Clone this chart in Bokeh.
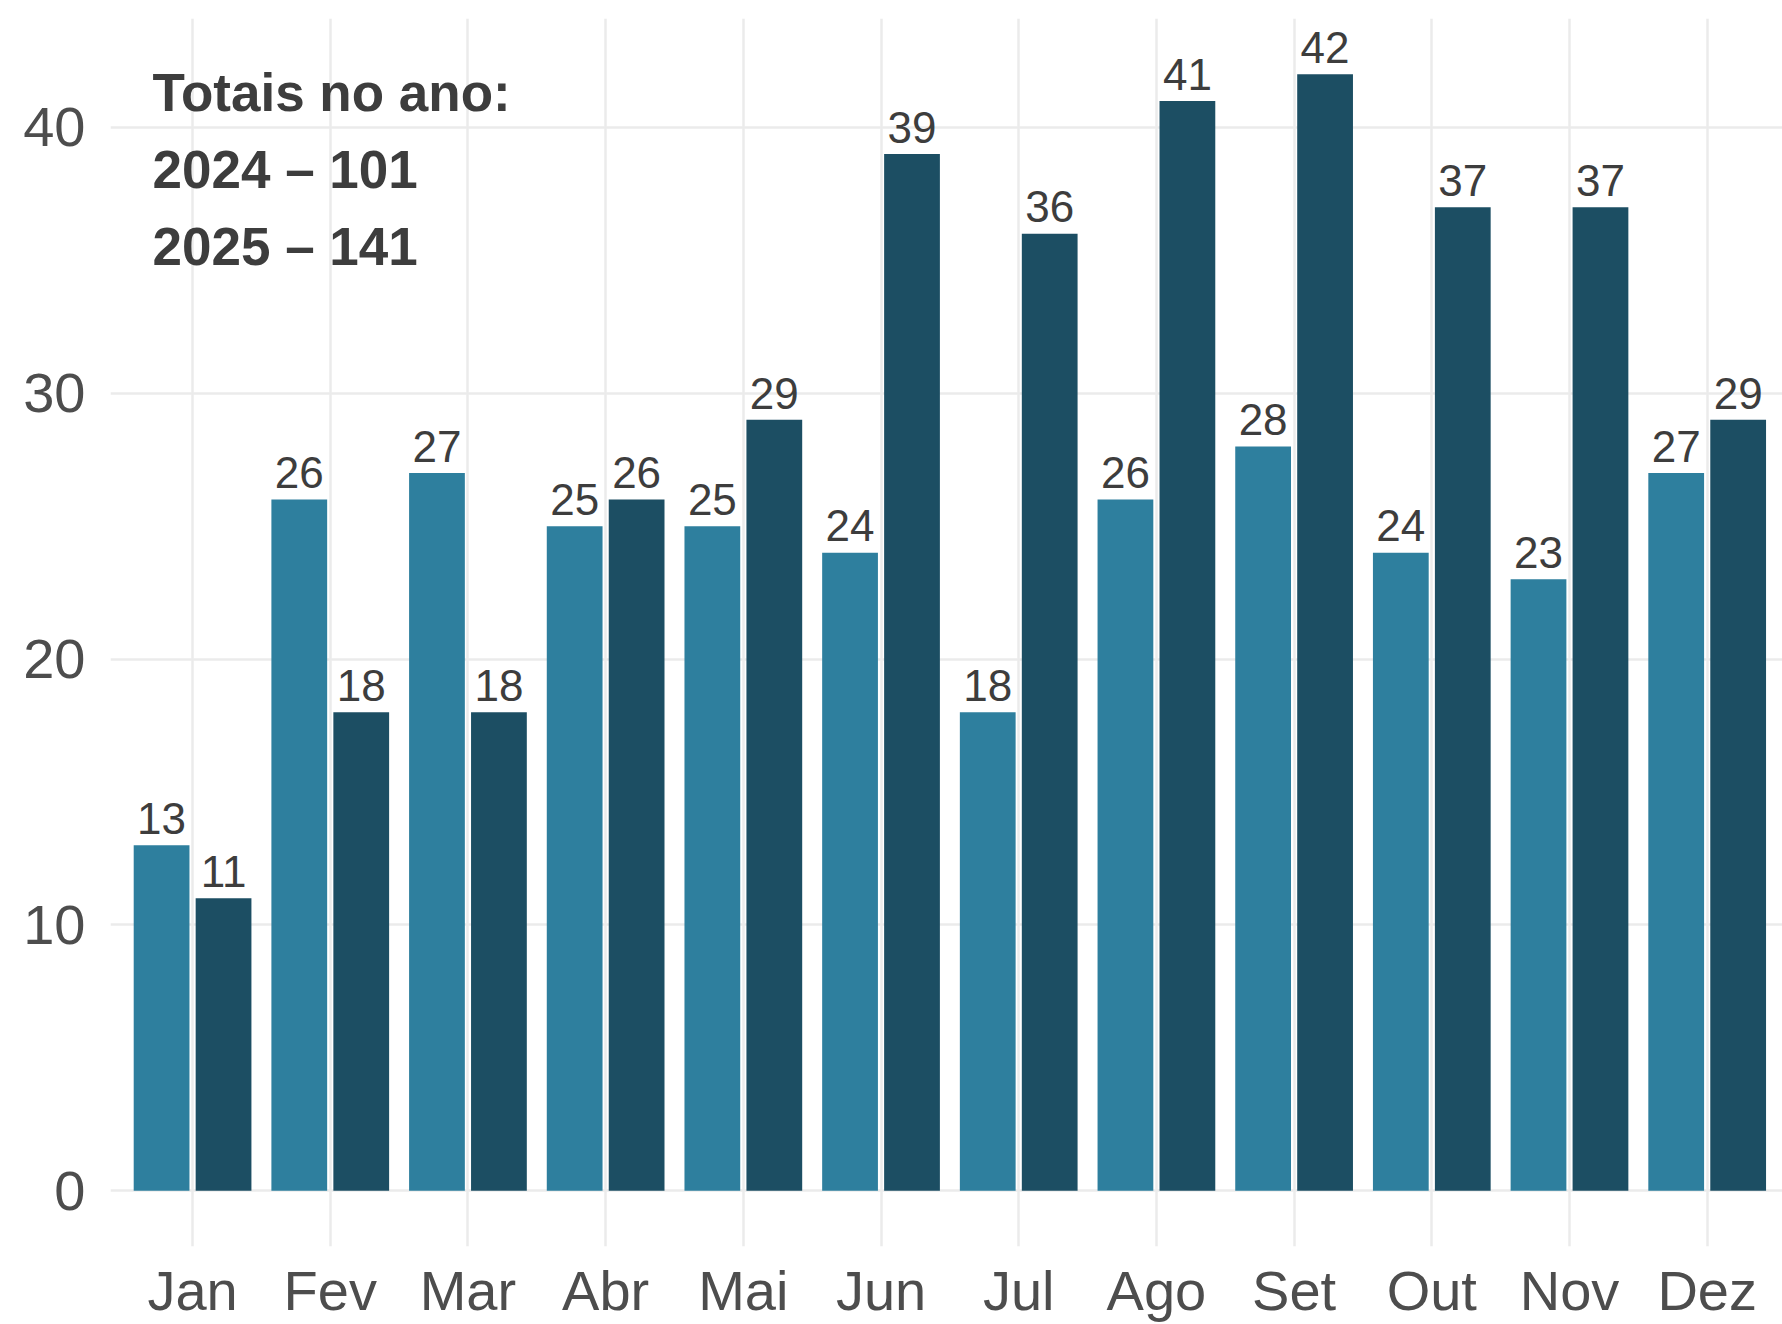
from bokeh.plotting import figure
from bokeh.models import ColumnDataSource, FixedTicker, Label
from bokeh.transform import dodge
from bokeh.core.properties import value
from bokeh.embed import file_html
from bokeh.resources import INLINE

# ---- data ----
months = ["Jan", "Fev", "Mar", "Abr", "Mai", "Jun", "Jul", "Ago", "Set", "Out", "Nov", "Dez"]
values_2024 = [13, 26, 27, 25, 25, 24, 18, 26, 28, 24, 23, 27]
values_2025 = [11, 18, 18, 26, 29, 39, 36, 41, 42, 37, 37, 29]
y_ticks = [0, 10, 20, 30, 40]
annotation_lines = ["Totais no ano:", "2024 – 101", "2025 – 141"]

# ---- styles ----
COL_2024 = "#2E7F9E"
COL_2025 = "#1C4E63"
FONT = "Liberation Sans"
month_pos = list(range(1, len(months) + 1))

src = ColumnDataSource(dict(
    x=month_pos,
    v24=values_2024,
    v25=values_2025,
    l24=[str(v) for v in values_2024],
    l25=[str(v) for v in values_2025],
))

p = figure(width=1782, height=1324,
           x_range=(0.404, 12.547), y_range=(-2.1, 44.1),
           output_backend="svg", toolbar_location=None,
           min_border_left=110, min_border_right=0,
           min_border_top=18, min_border_bottom=78)
p.outline_line_color = None
p.background_fill_color = "white"

off = 0.225
bw = 0.405
p.vbar(x=dodge("x", -off), top="v24", width=bw, bottom=0, source=src,
       fill_color=COL_2024, line_color=None)
p.vbar(x=dodge("x", off), top="v25", width=bw, bottom=0, source=src,
       fill_color=COL_2025, line_color=None)

label_gap = 1.01  # lifts the label baseline ~12px above the bar top
for col, lab, sgn in (("v24", "l24", -1), ("v25", "l25", 1)):
    p.text(x=dodge("x", sgn * off), y=dodge(col, label_gap), text=lab, source=src,
           text_align="center", text_baseline="alphabetic",
           text_font=value(FONT), text_font_size="44px", text_color="#3D3D3D")

# annotation
ann_y = [41.31, 38.42, 35.52]
for txt, yy in zip(annotation_lines, ann_y):
    p.add_layout(Label(x=0.709, y=yy, text=txt, text_font=FONT,
                       text_font_size="53px", text_font_style="bold",
                       text_color="#3D3D3D", text_baseline="alphabetic",
                       text_align="left"))

# axes
p.xaxis.ticker = FixedTicker(ticks=month_pos)
p.xaxis.major_label_overrides = {i: m for i, m in zip(month_pos, months)}
p.yaxis.ticker = FixedTicker(ticks=y_ticks)
for ax in (p.xaxis, p.yaxis):
    ax.axis_line_color = None
    ax.major_tick_line_color = None
    ax.minor_tick_line_color = None
    ax.major_label_text_font = FONT
    ax.major_label_text_font_size = "56px"
    ax.major_label_text_color = "#4D4D4D"
p.yaxis.major_label_standoff = 19
p.xaxis.major_label_standoff = 6

p.xgrid.ticker = FixedTicker(ticks=month_pos)
p.ygrid.ticker = FixedTicker(ticks=y_ticks)
p.grid.grid_line_color = "#EBEBEB"
p.grid.grid_line_width = 2.5
p.ygrid.minor_grid_line_color = None

open("out.html", "w").write(file_html(p, INLINE))
